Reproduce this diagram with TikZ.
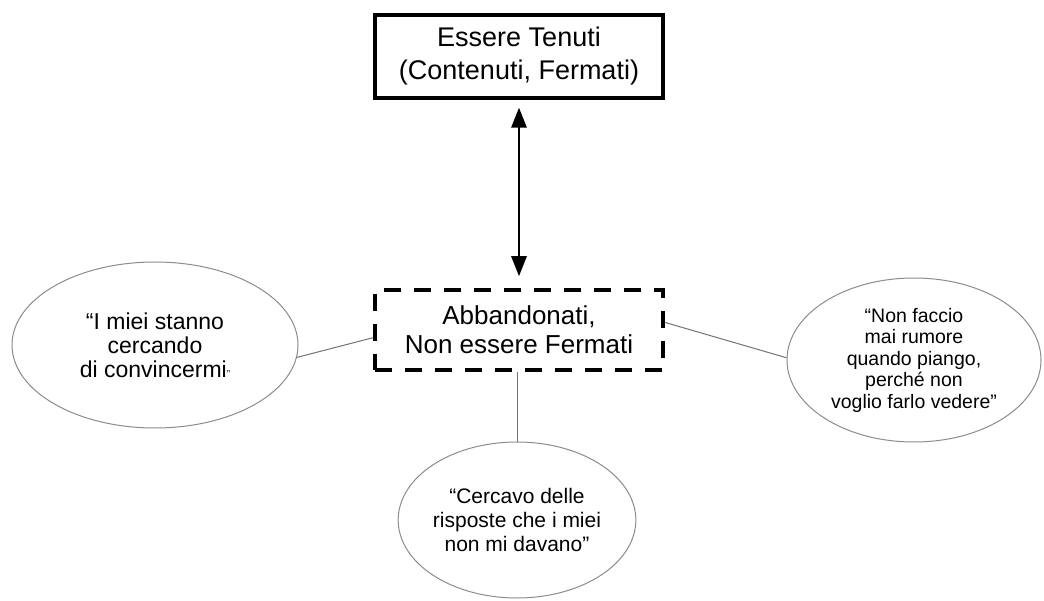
\documentclass[tikz,border=0pt]{standalone}
\usepackage{fontspec}
\setmainfont{Liberation Sans}
\usetikzlibrary{shapes.geometric,arrows.meta}
\begin{document}
\begin{tikzpicture}[x=1pt,y=1pt,
  mainbox/.style={draw=black,line width=3.2pt,rectangle,minimum width=288pt,minimum height=83pt,inner sep=0pt,align=center,
    font=\fontsize{27}{33}\selectfont},
  dashbox/.style={draw=black,line width=3.5pt,rectangle,dash pattern=on 17pt off 13pt,minimum width=288pt,minimum height=80pt,inner sep=0pt,align=center,
    font=\fontsize{26}{29}\selectfont},
  quote/.style={draw=black!45,line width=1pt,ellipse,inner sep=0pt,align=center},
  link/.style={draw=black!55,line width=1pt},
  twoway/.style={line width=2.8pt,{Triangle[length=20pt,width=15pt]}-{Triangle[length=20pt,width=15pt]}}
]
\useasboundingbox (0,0) rectangle (1044,-601);
\fill[white] (0,0) rectangle (1044,-601);

% central concepts
\node[mainbox] (top) at (519,-56.5) {Essere Tenuti\\(Contenuti, Fermati)};
\node[dashbox] (mid) at (519,-330) {Abbandonati,\\Non essere Fermati};

% quotations
\node[quote,minimum width=286pt,minimum height=166pt,font=\fontsize{23}{24}\selectfont] (left) at (155,-345)
  {“I miei stanno\\cercando\\di convincermi{\fontsize{10}{10}\selectfont”}};
\node[quote,minimum width=254pt,minimum height=164pt,font=\fontsize{19.5}{21.5}\selectfont] (right) at (914,-360)
  {“Non faccio\\mai rumore\\quando piango,\\perché non\\voglio farlo vedere”};
\node[quote,minimum width=214pt,minimum height=156pt,font=\fontsize{21}{24}\selectfont] (bottom) at (517,-520)
  {“Cercavo delle\\risposte che i miei\\non mi davano”};

% connectors
\draw[twoway,shorten <=8pt,shorten >=12pt] (top.south) -- (mid.north);
\draw[link] (left.-5.6) -- (mid.183);
\draw[link] (mid.3) -- (right.179);
\draw[link] (mid.south -| bottom.north) -- (bottom.north);
\end{tikzpicture}
\end{document}
